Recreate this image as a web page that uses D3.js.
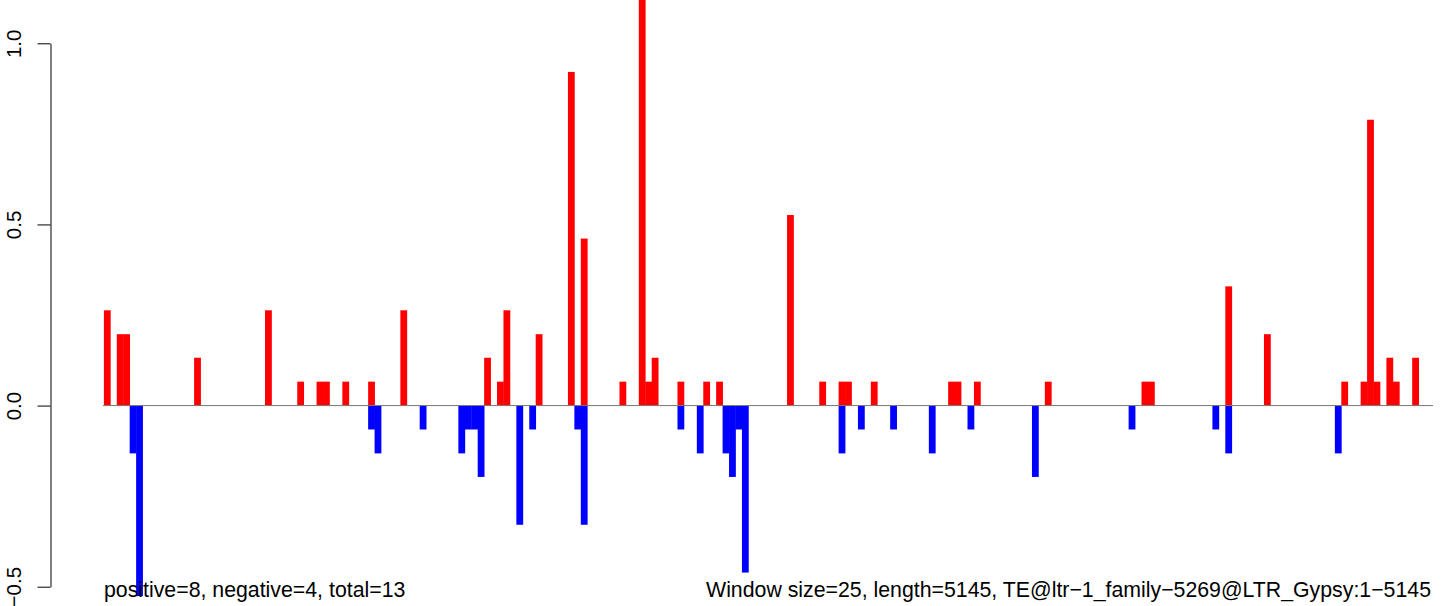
<!DOCTYPE html>
<html>
<head>
<meta charset="utf-8">
<script src="https://cdn.jsdelivr.net/npm/d3@7"></script>
<style>
  body { margin: 0; background: #fff; }
  svg { display: block; }
  text { font-family: "Liberation Sans", Arial, sans-serif; }
</style>
</head>
<body>
<svg id="chart" width="1444" height="606"></svg>
<script>
// window index (25 bp windows) and score for each positive / negative window
const posWindows = [0, 2, 3, 14, 25, 30, 33, 34, 37, 41, 46, 59, 61, 62, 67, 72, 74, 80, 83, 84, 85,
                    89, 93, 95, 106, 111, 114, 115, 119, 131, 132, 135, 146, 161, 162, 174, 180,
                    192, 195, 196, 197, 199, 200, 203];
const posValues  = [0.263, 0.197, 0.197, 0.132, 0.263, 0.066, 0.066, 0.066, 0.066, 0.066, 0.263,
                    0.132, 0.066, 0.263, 0.197, 0.921, 0.461, 0.066, 1.18, 0.066, 0.132,
                    0.066, 0.066, 0.066, 0.526, 0.066, 0.066, 0.066, 0.066, 0.066, 0.066, 0.066,
                    0.066, 0.066, 0.066, 0.329, 0.197, 0.066, 0.066, 0.789, 0.066, 0.132, 0.066, 0.132];
const negWindows = [4, 5, 41, 42, 49, 55, 56, 57, 58, 64, 66, 73, 74, 89, 92, 96, 97, 98, 99,
                    114, 117, 122, 128, 134, 144, 159, 172, 174, 191];
const negValues  = [-0.132, -0.526, -0.066, -0.132, -0.066, -0.132, -0.066, -0.066, -0.197,
                    -0.329, -0.066, -0.066, -0.329, -0.066, -0.132, -0.132, -0.197, -0.066, -0.461,
                    -0.132, -0.066, -0.066, -0.132, -0.066, -0.197, -0.066, -0.066, -0.132, -0.132];
const yTicks = [-0.5, 0, 0.5, 1.0];

const leftNote  = 'positive=8, negative=4, total=13';
const rightNote = 'Window size=25, length=5145, TE@ltr\u22121_family\u22125269@LTR_Gypsy:1\u22125145';

const svg = d3.select('#chart');

const x = d3.scaleLinear()
            .domain([-0.667, 205.7])
            .range([103, 1433]);
const y = d3.scaleLinear()
            .domain([-0.5, 1.0])
            .range([586.7, 43.3]);

const barW = 6.8;

function drawBars(cls, windows, values, colour) {
    const data = windows.map((w, i) => ({w: w, v: values[i]}));
    svg.append('g')
        .selectAll('.' + cls)
            .data(data)
        .enter()
        .append('rect')
            .classed(cls, true)
            .attr('x', d => x(d.w) - barW / 2)
            .attr('width', barW)
            .attr('y', d => Math.min(y(d.v), y(0)))
            .attr('height', d => Math.abs(y(d.v) - y(0)))
            .attr('fill', colour);
}

drawBars('pos', posWindows, posValues, '#ff0000');
drawBars('neg', negWindows, negValues, '#0000ff');

// zero line across the plot region
svg.append('line')
    .attr('x1', x.range()[0])
    .attr('x2', x.range()[1])
    .attr('y1', y(0))
    .attr('y2', y(0))
    .style('stroke', '#777')
    .style('stroke-width', 1);

// y axis, R style with rotated labels
const yAxis = svg.append('g')
    .attr('transform', 'translate(50.5,0)')
    .call(d3.axisLeft(y)
            .tickValues(yTicks)
            .tickSize(13)
            .tickSizeOuter(0)
            .tickFormat(d3.format('.1f')));

yAxis.select('.domain').style('stroke', '#000');
yAxis.selectAll('.tick line').style('stroke', '#000');
yAxis.selectAll('.tick text')
    .attr('x', null)
    .attr('dy', null)
    .attr('transform', 'translate(-29.5,0) rotate(-90)')
    .attr('text-anchor', 'middle')
    .style('font-size', '20.5px')
    .style('font-family', '"Liberation Sans", Arial, sans-serif')
    .style('fill', '#000');

svg.append('text')
    .attr('x', 104)
    .attr('y', 597)
    .style('font-size', '21.3px')
    .text(leftNote);

svg.append('text')
    .attr('x', 1431)
    .attr('y', 597)
    .attr('text-anchor', 'end')
    .style('font-size', '21.3px')
    .text(rightNote);
</script>
</body>
</html>
